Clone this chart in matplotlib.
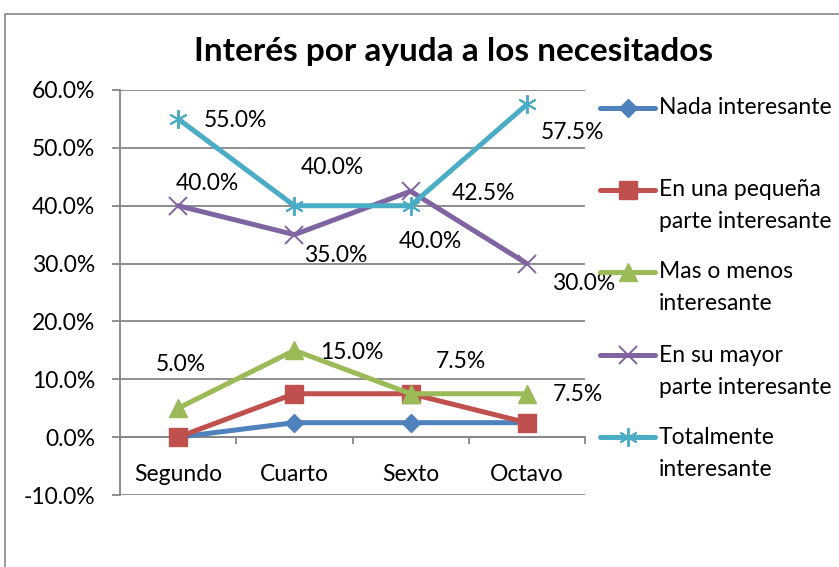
import numpy as np
import matplotlib
matplotlib.use('Agg')
import matplotlib.pyplot as plt
from matplotlib.lines import Line2D

# datos del grafico
categorias = ['Segundo', 'Cuarto', 'Sexto', 'Octavo']
nada = [0.0, 0.025, 0.025, 0.025]
pequena = [0.0, 0.075, 0.075, 0.025]
mas_menos = [0.05, 0.15, 0.075, 0.075]
mayor = [0.40, 0.35, 0.425, 0.30]
totalmente = [0.55, 0.40, 0.40, 0.575]
series_nombres = ['Nada interesante', 'En una pequeña\nparte interesante',
                  'Mas o menos\ninteresante', 'En su mayor\nparte interesante',
                  'Totalmente\ninteresante']
y_ticks = [-0.1, 0.0, 0.1, 0.2, 0.3, 0.4, 0.5, 0.6]

# estilos
colores = ['#4F81BD', '#C0504D', '#9BBB59', '#8064A2', '#4BACC6']
marcadores = ['D', 's', '^', 'x', (6, 2, 0)]
tam_marc = [9.5, 13, 13.5, 13, 13.5]
FUENTE = ['Lato', 'DejaVu Sans']
FS = 16.5
LW = 3.6
plt.rcParams['font.family'] = FUENTE

# desplazamiento de etiquetas (pixeles) para las series con etiqueta
offs_mas = [(3, 44), (57, -2), (50, 32), (51, -1)]
offs_mayor = [(29, 22), (41, -21), (73, -2), (57, -20)]
offs_total = [(57, -2), (38, 38), (20, -36), (46, -28)]

W, H = 839, 567
fig = plt.figure(figsize=(W / 100, H / 100), dpi=100)
ax = fig.add_axes([120 / W, 1 - 495 / H, 465 / W, 405 / H])

x = np.arange(len(categorias))
datos = [nada, pequena, mas_menos, mayor, totalmente]
for i, serie in enumerate(datos):
    ax.plot(x, serie, color=colores[i], lw=LW, marker=marcadores[i],
            ms=tam_marc[i], mew=1.4 if i >= 3 else 1, mfc=colores[i], mec=colores[i],
            zorder=3 + i, solid_capstyle='round', clip_on=False)

def etiquetas(serie, offs):
    for xi, v, (dx, dy) in zip(x, serie, offs):
        ax.annotate(f'{v * 100:.1f}%', (xi, v), xytext=(dx, dy), textcoords='offset pixels',
                    ha='center', va='center', fontsize=FS, color='black', zorder=10,
                    annotation_clip=False)

etiquetas(mas_menos, offs_mas)
etiquetas(mayor, offs_mayor)
etiquetas(totalmente, offs_total)

ax.set_xlim(-0.5, 3.5)
ax.set_ylim(-0.1, 0.6)
ax.set_yticks(y_ticks)
ax.set_yticklabels([f'{t * 100:.1f}%' for t in y_ticks])
ax.yaxis.grid(True, color='#868686', lw=1.3)
ax.set_axisbelow(True)

for s in ['top', 'right']:
    ax.spines[s].set_visible(False)
ax.spines['left'].set_color('#868686')
ax.spines['left'].set_linewidth(1.3)
ax.spines['bottom'].set_position(('data', 0))
ax.spines['bottom'].set_color('#868686')
ax.spines['bottom'].set_linewidth(1.3)

ax.set_xticks(x)
ax.set_xticklabels(categorias)
ax.set_xticks(np.arange(-0.5, 4, 1), minor=True)
ax.tick_params(axis='x', which='major', length=0, pad=19, labelsize=FS)
ax.tick_params(axis='x', which='minor', length=5, color='#868686', width=1.3, direction='out')
ax.tick_params(axis='y', length=6, color='#868686', width=1.3, pad=12, labelsize=FS)

fig.text(454 / W, 1 - 52 / H, 'Interés por ayuda a los necesitados', ha='center', va='center',
         fontsize=24, fontweight='bold')

# leyenda manual
y_ley = [108, 190, 272, 355, 437]
for i, nombre in enumerate(series_nombres):
    yy = 1 - y_ley[i] / H
    fig.add_artist(Line2D([600 / W, 655 / W], [yy, yy], color=colores[i], lw=LW,
                          solid_capstyle='round', transform=fig.transFigure))
    fig.add_artist(Line2D([628 / W], [yy], color=colores[i], marker=marcadores[i],
                          ms=tam_marc[i], mew=1.4 if i >= 3 else 1, transform=fig.transFigure))
    for k, linea in enumerate(nombre.split('\n')):
        fig.text(659 / W, 1 - (y_ley[i] + 32 * k) / H, linea, ha='left', va='center',
                 fontsize=FS)

# marco exterior
fig.add_artist(Line2D([5 / W, 5 / W, 1], [0, 1 - 14 / H, 1 - 14 / H], color='#888888',
                      lw=1.2, transform=fig.transFigure))

fig.savefig('out.png', dpi=100)
